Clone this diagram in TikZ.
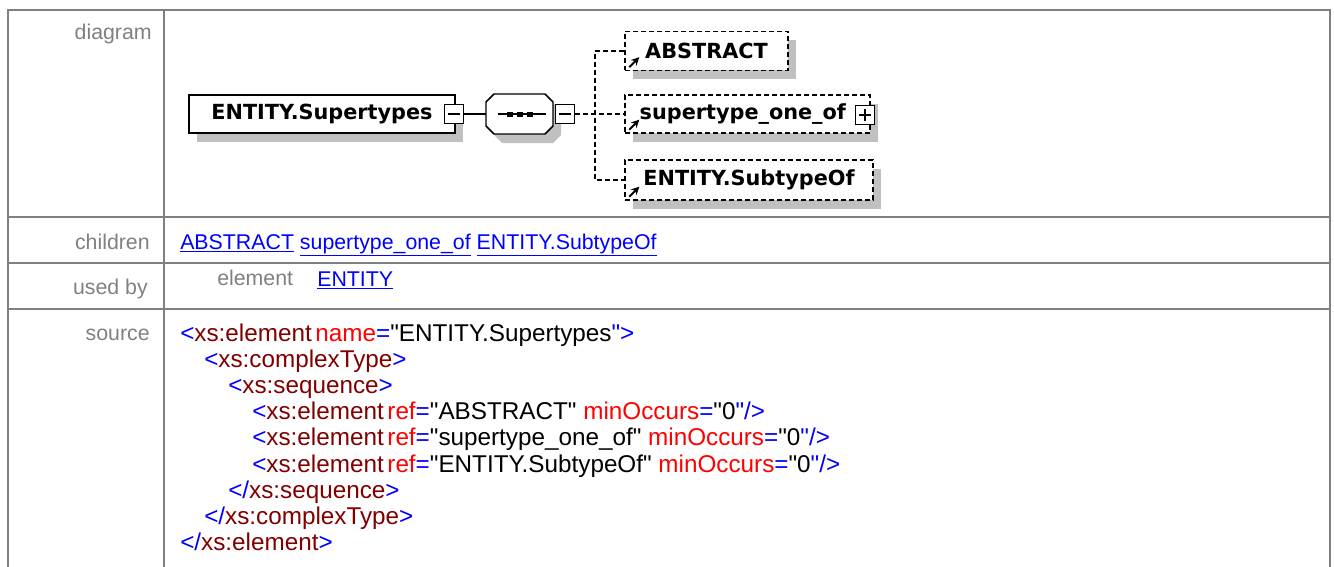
\documentclass[tikz,border=0pt]{standalone}
\usepackage{fontspec}
\setmainfont{Liberation Sans}[Ligatures=TeXOff]
\newfontfamily\diafont{DejaVu Sans}
\usetikzlibrary{shadows,arrows.meta,positioning}
\definecolor{gridgray}{HTML}{808080}
\definecolor{shadegray}{HTML}{C0C0C0}
\definecolor{linkblue}{HTML}{0000FF}
\definecolor{tagred}{HTML}{800000}
\definecolor{attred}{HTML}{FF0000}
\newcommand{\pxu}{0.75pt}
\newcommand{\xb}[1]{\textcolor{linkblue}{#1}}
\newcommand{\xm}[1]{\textcolor{tagred}{#1}}
\newcommand{\xr}[1]{\textcolor{attred}{#1}}

\begin{document}
\begin{tikzpicture}[x=0.75pt, y=-0.75pt,
    gridline/.style={draw=gridgray, line width=1.9pt},
    rowlabel/.style={text=gridgray, anchor=base east, inner sep=0pt, font=\fontsize{16}{19}\selectfont},
    celltext/.style={anchor=base west, inner sep=0pt, font=\fontsize{16}{19}\selectfont},
    srcline/.style={anchor=base west, inner sep=0pt, font=\fontsize{18.2}{21}\selectfont},
    elembox/.style={draw, line width=1.1pt, fill=white, inner sep=0pt,
      font=\diafont\bfseries\fontsize{15.6}{18}\selectfont,
      drop shadow={shadow xshift=6pt, shadow yshift=-6.75pt, fill=shadegray, opacity=1}},
    optbox/.style={elembox, dash pattern=on 3.75pt off 2.25pt},
    togglebox/.style={draw, line width=1.1pt, fill=white, inner sep=0pt, minimum size=19*\pxu},
    conn/.style={draw, line width=1.1pt},
    dconn/.style={conn, dash pattern=on 3.75pt off 2.25pt}]
    \useasboundingbox (0,0) rectangle (1334,567);

    % table frame
    \draw[gridline] (8,567) -- (8,10) -- (1330,10) -- (1330,567);
    \draw[gridline] (164,10) -- (164,567);
    \foreach \y in {217,263,309}
        \draw[gridline] (8,\y) -- (1330,\y);

    % row labels
    \node[rowlabel] (lbdiagram) at (152,40) {diagram};
    \node[rowlabel] (lbchildren) at (150,249) {children};
    \node[rowlabel] (lbusedby) at (148,294) {used by};
    \node[rowlabel] (lbsource) at (150,340) {source};

    % diagram: element with its sequence
    \node[elembox, minimum width=266*\pxu, minimum height=38*\pxu] (elem) at (322,114) {ENTITY.Supertypes};
    \node[togglebox] (elemtog) at (454,114) {};
    \draw[line width=1.1pt] ([shift={(-6,0)}]elemtog.center) -- ([shift={(6,0)}]elemtog.center);

    % sequence compositor (octagon)
    \fill[shadegray, shift={(8,9)}] (494,94) -- (545,94) -- (553,102) -- (553,126)
        -- (545,134) -- (494,134) -- (486,126) -- (486,102) -- cycle;
    \filldraw[fill=white, line width=1.1pt] (494,94) -- (545,94) -- (553,102) -- (553,126)
        -- (545,134) -- (494,134) -- (486,126) -- (486,102) -- cycle;
    \node[inner sep=0pt, minimum width=67*\pxu, minimum height=40*\pxu] (seq) at (519.5,114) {};
    \draw[line width=1.1pt] ([shift={(-22,0)}]seq.center) -- ([shift={(26,0)}]seq.center);
    \foreach \d in {-10,0,10}
        \fill ([shift={(\d,0)}]seq.center) ++(-3,-2.5) rectangle ++(6,5);
    \node[togglebox] (seqtog) at (565,114) {};
    \draw[line width=1.1pt] ([shift={(-6,0)}]seqtog.center) -- ([shift={(6,0)}]seqtog.center);

    % children (optional)
    \node[optbox, minimum width=163*\pxu, minimum height=39*\pxu] (abstract) at (706.5,51) {ABSTRACT};
    \node[optbox, minimum width=245*\pxu, minimum height=38*\pxu] (oneof) at (747.5,114) {supertype\_one\_of\kern7pt};
    \node[togglebox] (oneoftog) at (865,115) {};
    \draw[line width=1.1pt] ([shift={(-6,0)}]oneoftog.center) -- ([shift={(6,0)}]oneoftog.center);
    \draw[line width=1.1pt] ([shift={(0,-6)}]oneoftog.center) -- ([shift={(0,6)}]oneoftog.center);
    \node[optbox, minimum width=248*\pxu, minimum height=40*\pxu] (subtype) at (749,180) {ENTITY.SubtypeOf};
    \foreach \b in {abstract,oneof,subtype}
        \draw[line width=1.4pt, -{Stealth[length=6pt,width=6pt]}] ([shift={(5,-4)}]\b.south west) -- ++(10,-10);

    % connectors
    \coordinate (trunk) at (595,114);
    \draw[conn] (elemtog) -- (seq);
    \draw[dconn] (seqtog.east) -- (oneof.west);
    \draw[dconn] (abstract.west) -| (trunk) |- (subtype.west);

    % children row
    \node[celltext, text=linkblue] (kids) at (180,249)
        {\underline{ABSTRACT} \underline{supertype\_one\_of} \underline{ENTITY.SubtypeOf}};

    % used by row
    \node[celltext, text=gridgray] (usedkind) at (217,285) {element};
    \node[celltext, text=linkblue] (usedlink) at (317,286) {\underline{ENTITY}};

    % source row
    \node[srcline] (src1) at (180,341) {\xb{<}\xm{xs:element}\hspace{0.15em}\xr{name}\xb{=}"ENTITY.Supertypes\xb{">}};
    \node[srcline] (src2) at (204,367) {\xb{<}\xm{xs:complexType}\xb{>}};
    \node[srcline] (src3) at (228,393) {\xb{<}\xm{xs:sequence}\xb{>}};
    \node[srcline] (src4) at (252,419) {\xb{<}\xm{xs:element}\hspace{0.15em}\xr{ref}\xb{=}"ABSTRACT" \xr{minOccurs}\xb{=}"0\xb{"/>}};
    \node[srcline] (src5) at (252,445) {\xb{<}\xm{xs:element}\hspace{0.15em}\xr{ref}\xb{=}"supertype\_one\_of" \xr{minOccurs}\xb{=}"0\xb{"/>}};
    \node[srcline] (src6) at (252,472) {\xb{<}\xm{xs:element}\hspace{0.15em}\xr{ref}\xb{=}"ENTITY.SubtypeOf" \xr{minOccurs}\xb{=}"0\xb{"/>}};
    \node[srcline] (src7) at (228,498) {\xb{</}\xm{xs:sequence}\xb{>}};
    \node[srcline] (src8) at (204,524) {\xb{</}\xm{xs:complexType}\xb{>}};
    \node[srcline] (src9) at (180,550) {\xb{</}\xm{xs:element}\xb{>}};
\end{tikzpicture}
\end{document}
